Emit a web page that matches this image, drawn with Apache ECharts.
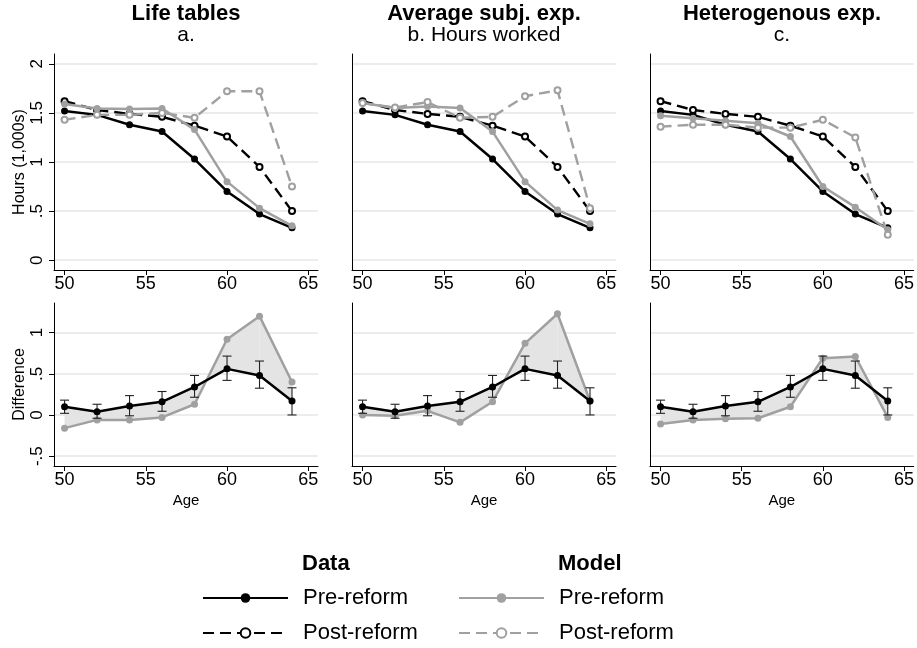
<!DOCTYPE html>
<html>
    <head>
        <meta charset="utf-8">
        <script src="https://cdn.jsdelivr.net/npm/echarts@6/dist/echarts.min.js"></script>
        <style>
            html, body { margin: 0; padding: 0; background: #fff; }
            #main { width: 917px; height: 648px; }
        </style>
    </head>
    <body>
        <div id="main"></div>
        <script>
        // ages on the x axis
        const ages = [50, 52, 54, 56, 58, 60, 62, 64];

        // hours worked (1,000s) - data, same in every panel
        const dataPre = [1.52, 1.48, 1.38, 1.31, 1.03, 0.70, 0.47, 0.33];
        const dataPost = [1.62, 1.53, 1.49, 1.46, 1.37, 1.26, 0.95, 0.50];

        // model, one pair per panel
        const modelPreA = [1.59, 1.545, 1.54, 1.545, 1.33, 0.80, 0.53, 0.35];
        const modelPostA = [1.43, 1.48, 1.48, 1.50, 1.45, 1.72, 1.72, 0.75];
        const modelPreB = [1.60, 1.55, 1.565, 1.55, 1.31, 0.80, 0.51, 0.37];
        const modelPostB = [1.60, 1.555, 1.61, 1.45, 1.46, 1.67, 1.73, 0.53];
        const modelPreC = [1.47, 1.445, 1.42, 1.395, 1.26, 0.75, 0.54, 0.31];
        const modelPostC = [1.36, 1.38, 1.38, 1.35, 1.35, 1.43, 1.25, 0.26];

        // differences (post - pre)
        const dataDiff = [0.10, 0.04, 0.11, 0.16, 0.34, 0.56, 0.48, 0.17];
        const dataDiffLow = [0.02, -0.04, -0.01, 0.045, 0.215, 0.42, 0.325, 0.0];
        const dataDiffHigh = [0.18, 0.13, 0.235, 0.285, 0.48, 0.715, 0.655, 0.33];
        const modelDiffA = [-0.16, -0.06, -0.06, -0.03, 0.13, 0.92, 1.20, 0.40];
        const modelDiffB = [0.0, -0.01, 0.05, -0.09, 0.16, 0.87, 1.23, 0.17];
        const modelDiffC = [-0.11, -0.06, -0.045, -0.04, 0.10, 0.69, 0.71, -0.03];

        const panelTitles = ['Life tables', 'Average subj. exp.', 'Heterogenous exp.'];
        const panelSubtitles = ['a.', 'b. Hours worked', 'c.'];
        const xTicks = [50, 55, 60, 65];
        const hoursTicks = [0, 0.5, 1, 1.5, 2];
        const diffTicks = [-0.5, 0, 0.5, 1];

        const modelPre = [modelPreA, modelPreB, modelPreC];
        const modelPost = [modelPostA, modelPostB, modelPostC];
        const modelDiff = [modelDiffA, modelDiffB, modelDiffC];

        const FONT = 'Liberation Sans, Arial, Helvetica, sans-serif';
        const GRAY = '#a0a0a0';
        const lefts = [54, 352, 650];
        const panelW = 264;

        const fmt = function (v) {
            if (v === 0) return '0';
            return String(v).replace('0.', '.');
        };
        const pairs = function (ys) {
            return ages.map(function (a, i) { return [a, ys[i]]; });
        };

        const grids = [], xAxes = [], yAxes = [], series = [], titles = [];

        for (let p = 0; p < 3; p++) {
            titles.push({
                text: panelTitles[p],
                subtext: panelSubtitles[p],
                left: lefts[p] + panelW / 2,
                top: 4,
                padding: 0,
                textAlign: 'center',
                itemGap: 0,
                textStyle: { fontFamily: FONT, fontSize: 22, lineHeight: 20, fontWeight: 'bold', color: '#000' },
                subtextStyle: { fontFamily: FONT, fontSize: 21, lineHeight: 18, color: '#000' }
            });

            for (let row = 0; row < 2; row++) {
                const top = row === 0;
                const gi = grids.length;
                grids.push({
                    left: lefts[p], width: panelW,
                    top: top ? 54 : 303,
                    height: top ? 216 : 163
                });
                xAxes.push({
                    type: 'value', gridIndex: gi,
                    min: 49.35, max: 65.6,
                    name: top ? '' : 'Age',
                    nameLocation: 'middle', nameGap: 27,
                    nameTextStyle: { fontFamily: FONT, fontSize: 15, color: '#000' },
                    axisLine: { show: true, onZero: false, lineStyle: { color: '#000', width: 1 } },
                    axisTick: { show: true, length: 5, customValues: xTicks, lineStyle: { color: '#000' } },
                    axisLabel: { customValues: xTicks, fontFamily: FONT, fontSize: 18, color: '#000', margin: 5 },
                    splitLine: { show: false }
                });
                const ticks = top ? hoursTicks : diffTicks;
                yAxes.push({
                    type: 'value', gridIndex: gi,
                    min: top ? -0.1 : -0.62,
                    max: top ? 2.1 : 1.36,
                    name: p === 0 ? (top ? 'Hours (1,000s)' : 'Difference') : '',
                    nameLocation: 'middle', nameGap: 26,
                    nameTextStyle: { fontFamily: FONT, fontSize: 16, color: '#000' },
                    axisLine: { show: true, onZero: false, lineStyle: { color: '#000', width: 1 } },
                    axisTick: { show: p === 0, length: 5, customValues: ticks, lineStyle: { color: '#000' } },
                    axisLabel: {
                        show: p === 0, customValues: ticks, rotate: 90, formatter: fmt,
                        fontFamily: FONT, fontSize: 17, color: '#000', margin: 8
                    },
                    splitLine: { show: true, lineStyle: { color: '#e6e6e6', width: 1.5 } }
                });

                if (top) {
                    series.push({
                        name: 'Data Pre-reform', type: 'line', xAxisIndex: gi, yAxisIndex: gi,
                        data: pairs(dataPre), symbol: 'circle', symbolSize: 7,
                        lineStyle: { color: '#000', width: 2.5 }, itemStyle: { color: '#000' }, z: 3
                    });
                    series.push({
                        name: 'Data Post-reform', type: 'line', xAxisIndex: gi, yAxisIndex: gi,
                        data: pairs(dataPost), symbol: 'emptyCircle', symbolSize: 6,
                        lineStyle: { color: '#000', width: 2.4, type: [11, 6] },
                        itemStyle: { color: '#000', borderColor: '#000', borderWidth: 1.2 }, z: 4
                    });
                    series.push({
                        name: 'Model Pre-reform', type: 'line', xAxisIndex: gi, yAxisIndex: gi,
                        data: pairs(modelPre[p]), symbol: 'circle', symbolSize: 7,
                        lineStyle: { color: GRAY, width: 2.5 }, itemStyle: { color: GRAY }, z: 5
                    });
                    series.push({
                        name: 'Model Post-reform', type: 'line', xAxisIndex: gi, yAxisIndex: gi,
                        data: pairs(modelPost[p]), symbol: 'emptyCircle', symbolSize: 6,
                        lineStyle: { color: GRAY, width: 2.4, type: [11, 6] },
                        itemStyle: { color: GRAY, borderColor: GRAY, borderWidth: 1.2 }, z: 6
                    });
                } else {
                    const md = modelDiff[p];
                    // shaded band between data and model differences
                    const band = [];
                    for (let i = 0; i < ages.length - 1; i++) {
                        band.push([ages[i], ages[i + 1], dataDiff[i], dataDiff[i + 1], md[i], md[i + 1]]);
                    }
                    series.push({
                        type: 'custom', xAxisIndex: gi, yAxisIndex: gi, silent: true, z: 1,
                        encode: { x: [0, 1], y: [2, 3, 4, 5] },
                        data: band,
                        renderItem: function (params, api) {
                            const d1 = api.coord([api.value(0), api.value(2)]);
                            const d2 = api.coord([api.value(1), api.value(3)]);
                            const m1 = api.coord([api.value(0), api.value(4)]);
                            const m2 = api.coord([api.value(1), api.value(5)]);
                            return {
                                type: 'polygon',
                                shape: { points: [d1, d2, m2, m1] },
                                style: { fill: '#e4e4e4', stroke: null }
                            };
                        }
                    });
                    series.push({
                        type: 'line', xAxisIndex: gi, yAxisIndex: gi,
                        data: pairs(md), symbol: 'circle', symbolSize: 7,
                        lineStyle: { color: GRAY, width: 2.5 }, itemStyle: { color: GRAY }, z: 3
                    });
                    series.push({
                        type: 'custom', xAxisIndex: gi, yAxisIndex: gi, silent: true, z: 4,
                        encode: { x: 0, y: [1, 2] },
                        data: ages.map(function (a, i) { return [a, dataDiffLow[i], dataDiffHigh[i]]; }),
                        renderItem: function (params, api) {
                            const lo = api.coord([api.value(0), api.value(1)]);
                            const hi = api.coord([api.value(0), api.value(2)]);
                            const w = 4.5;
                            const st = { stroke: '#222', lineWidth: 1.1 };
                            return {
                                type: 'group',
                                children: [
                                    { type: 'line', shape: { x1: lo[0], y1: lo[1], x2: hi[0], y2: hi[1] }, style: st },
                                    { type: 'line', shape: { x1: lo[0] - w, y1: lo[1], x2: lo[0] + w, y2: lo[1] }, style: st },
                                    { type: 'line', shape: { x1: hi[0] - w, y1: hi[1], x2: hi[0] + w, y2: hi[1] }, style: st }
                                ]
                            };
                        }
                    });
                    series.push({
                        type: 'line', xAxisIndex: gi, yAxisIndex: gi,
                        data: pairs(dataDiff), symbol: 'circle', symbolSize: 7,
                        lineStyle: { color: '#000', width: 2.5 }, itemStyle: { color: '#000' }, z: 5
                    });
                }
            }
        }

        titles.push({
            text: 'Data', left: 302, top: 553, padding: 0,
            textStyle: { fontFamily: FONT, fontSize: 22, lineHeight: 22, fontWeight: 'bold', color: '#000' }
        });
        titles.push({
            text: 'Model', left: 558, top: 553, padding: 0,
            textStyle: { fontFamily: FONT, fontSize: 22, lineHeight: 22, fontWeight: 'bold', color: '#000' }
        });

        const legendBase = {
            orient: 'vertical', top: 587, padding: 0,
            itemWidth: 85, itemHeight: 12, itemGap: 13,
            selectedMode: false,
            formatter: function (name) { return name.replace(/^(Data|Model) /, ''); },
            textStyle: { fontFamily: FONT, fontSize: 22, lineHeight: 22, color: '#000', padding: [0, 0, 0, 10] }
        };

        const chart = echarts.init(document.getElementById('main'));
        chart.setOption({
            backgroundColor: '#fff',
            animation: false,
            title: titles,
            legend: [
                Object.assign({}, legendBase, { left: 202, data: ['Data Pre-reform', 'Data Post-reform'] }),
                Object.assign({}, legendBase, { left: 458, data: ['Model Pre-reform', 'Model Post-reform'] })
            ],
            grid: grids,
            xAxis: xAxes,
            yAxis: yAxes,
            series: series
        });
        </script>
    </body>
</html>
